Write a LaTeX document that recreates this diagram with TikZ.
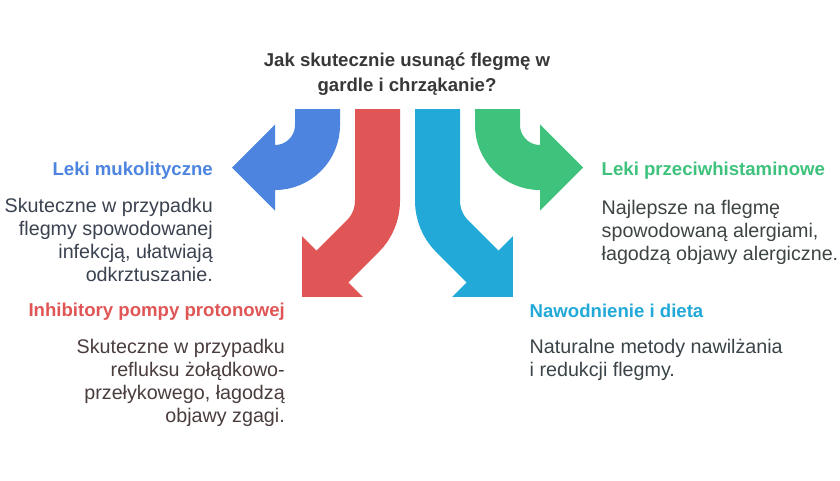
\documentclass[tikz,border=0pt]{standalone}
\usepackage{fontspec}
\setmainfont{Liberation Sans}
\definecolor{cblue}{HTML}{4C84E0}
\definecolor{cred}{HTML}{E05656}
\definecolor{ccyan}{HTML}{22A9D8}
\definecolor{cgreen}{HTML}{3EC27C}
\definecolor{ctitle}{HTML}{383838}
\definecolor{bblue}{HTML}{3B4250}
\definecolor{bred}{HTML}{4A3D3D}
\definecolor{bgreen}{HTML}{3D4541}
\definecolor{bcyan}{HTML}{3A4448}
\begin{document}
\begin{tikzpicture}[x=1pt,y=-1pt,
  hd/.style={inner sep=0pt, font=\fontsize{18.6}{22}\selectfont\bfseries},
  bd/.style={inner sep=0pt, font=\fontsize{19.7}{23}\selectfont},
  shaft/.style={line width=45pt, line cap=butt}]
\useasboundingbox[fill=white] (0,0) rectangle (840,480);

% blue arrow (left)
\draw[shaft, cblue] (317.5,109) -- (317.5,125) .. controls (317.5,148.47) and (298.47,167.5) .. (275,167.5) -- (273,167.5);
\fill[cblue] (275,124.5) -- (232,167.5) -- (275,210.5) -- cycle;
% green arrow (right)
\draw[shaft, cgreen] (497.5,109) -- (497.5,125) .. controls (497.5,148.47) and (516.53,167.5) .. (540,167.5) -- (542,167.5);
\fill[cgreen] (540,124.5) -- (583,167.5) -- (540,210.5) -- cycle;
% red arrow (down-left)
\draw[shaft, cred] (377.5,109) -- (377.5,200.8) .. controls (377.5,214.06) and (372.23,226.78) .. (362.855,236.155) -- (331,268);
\fill[cred] (302.1,236.1) -- (302.1,296.9) -- (362.9,296.9) -- cycle;
% cyan arrow (down-right)
\draw[shaft, ccyan] (437.5,109) -- (437.5,200.8) .. controls (437.5,214.06) and (442.77,226.78) .. (452.145,236.155) -- (484,268);
\fill[ccyan] (512.9,236.1) -- (512.9,296.9) -- (452.1,296.9) -- cycle;

% title
\node[hd, text=ctitle, anchor=base] (t1) at (407,66.7) {Jak skutecznie usunąć flegmę w};
\node[hd, text=ctitle, anchor=base] (t2) at (407,91.7) {gardle i chrząkanie?};

% blue block
\node[hd, text=cblue, anchor=base east] (bh) at (213,175) {Leki mukolityczne};
\node[bd, text=bblue, anchor=base east] (b1) at (213,212.7) {Skuteczne w przypadku};
\node[bd, text=bblue, anchor=base east] (b2) at (213,235.7) {flegmy spowodowanej};
\node[bd, text=bblue, anchor=base east] (b3) at (213,258.7) {infekcją, ułatwiają};
\node[bd, text=bblue, anchor=base east] (b4) at (213,281.7) {odkrztuszanie.};

% red block
\node[hd, text=cred, anchor=base east] (rh) at (285,316.7) {Inhibitory pompy protonowej};
\node[bd, text=bred, anchor=base east] (r1) at (285,353.3) {Skuteczne w przypadku};
\node[bd, text=bred, anchor=base east] (r2) at (285,376.5) {refluksu żołądkowo-};
\node[bd, text=bred, anchor=base east] (r3) at (285,399.7) {przełykowego, łagodzą};
\node[bd, text=bred, anchor=base east] (r4) at (285,422.9) {objawy zgagi.};

% green block
\node[hd, text=cgreen, anchor=base west] (gh) at (601.5,175) {Leki przeciwhistaminowe};
\node[bd, text=bgreen, anchor=base west] (g1) at (601.5,214) {Najlepsze na flegmę};
\node[bd, text=bgreen, anchor=base west] (g2) at (601.5,237) {spowodowaną alergiami,};
\node[bd, text=bgreen, anchor=base west] (g3) at (601.5,260) {łagodzą objawy alergiczne.};

% cyan block
\node[hd, text=ccyan, anchor=base west] (ch) at (529.5,317) {Nawodnienie i dieta};
\node[bd, text=bcyan, anchor=base west] (c1) at (529.5,353.3) {Naturalne metody nawilżania};
\node[bd, text=bcyan, anchor=base west] (c2) at (529.5,376.5) {i redukcji flegmy.};
\end{tikzpicture}
\end{document}
